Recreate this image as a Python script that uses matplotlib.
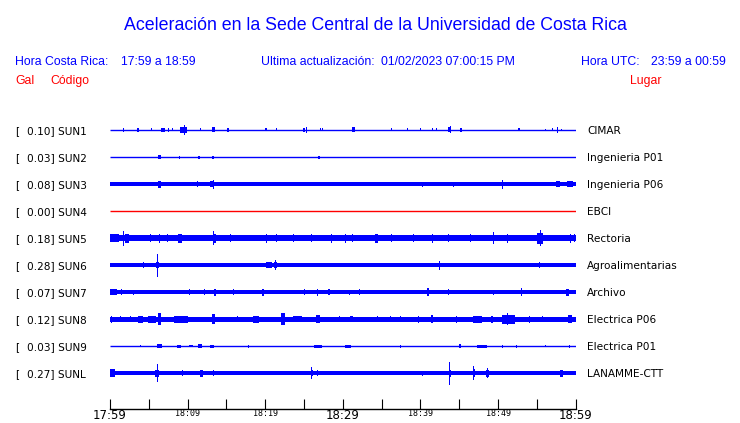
import matplotlib

matplotlib.use("Agg")
import matplotlib.pyplot as plt
import matplotlib.transforms as mtransforms

# time window in minutes after 17:59
T_START = 0.0
T_END = 60.0

CODES = ["SUN1", "SUN2", "SUN3", "SUN4", "SUN5", "SUN6", "SUN7", "SUN8", "SUN9", "SUNL"]
SCALES = ["0.10", "0.03", "0.08", "0.00", "0.18", "0.28", "0.07", "0.12", "0.03", "0.27"]
PLACES = ["CIMAR", "Ingenieria P01", "Ingenieria P06", "EBCI", "Rectoria",
          "Agroalimentarias", "Archivo", "Electrica P06", "Electrica P01", "LANAMME-CTT"]
TRACE_COLORS = ["blue", "blue", "blue", "red", "blue", "blue", "blue", "blue", "blue", "blue"]

# half height of the background noise band (pixels of the original plot)
NOISE = [0.5, 0.5, 2.0, 0.5, 3.0, 2.0, 2.0, 2.5, 0.5, 2.0]

# bursts: (minute, half height px, duration minutes)
SUN1_BURSTS = [
    (1.7, 2, 0.15), (3.6, 2, 0.3), (5.3, 1.5, 0.1), (6.8, 2, 0.5), (7.5, 2, 0.1),
    (8.1, 1.5, 0.1), (9.5, 3, 0.9), (9.6, 5, 0.12), (11.7, 1.5, 0.1), (13.3, 2.5, 0.4),
    (15.1, 2, 0.1), (15.3, 2, 0.1), (18.3, 1, 0.1), (20.0, 1.5, 0.1), (20.2, 1.5, 0.1),
    (21.5, 1.5, 0.1), (22.3, 1.5, 0.1), (25.0, 2, 0.3), (25.3, 3, 0.1), (27.1, 1.5, 0.1),
    (27.4, 1.5, 0.1), (31.4, 2.5, 0.4), (36.3, 1.5, 0.1), (38.3, 1.5, 0.1), (40.0, 1.5, 0.2),
    (41.6, 1.5, 0.1), (42.1, 1.5, 0.1), (43.7, 2.5, 0.4), (43.9, 3.5, 0.12), (45.2, 2, 0.2),
    (52.6, 1.5, 0.1), (52.8, 1.5, 0.1), (54.5, 1.5, 0.1), (56.1, 1, 0.1), (57.0, 1.5, 0.1),
    (57.7, 3, 0.1), (58.2, 1, 0.1),
]
SUN2_BURSTS = [
    (6.4, 2, 0.4), (9.0, 1.5, 0.15), (11.5, 1.5, 0.3), (13.3, 1.5, 0.3), (26.9, 1.5, 0.3),
    (47.8, 1, 0.1),
]
SUN3_BURSTS = [
    (6.4, 3.5, 0.4), (11.3, 3, 0.1), (13.1, 3, 0.4), (13.3, 4.5, 0.12), (40.3, 2.5, 0.1),
    (44.3, 2.5, 0.1), (50.6, 4.5, 0.1), (57.7, 2.8, 0.5), (59.3, 2.8, 0.8),
]
SUN4_BURSTS = []
SUN5_BURSTS = [
    (0.6, 4, 1.2), (1.7, 7.5, 0.12), (2.2, 4.5, 0.5), (5.2, 4, 0.12), (6.4, 4.5, 0.15),
    (7.4, 4, 0.12), (9.0, 4.5, 0.5), (11.6, 4.5, 0.12), (13.3, 7, 0.12), (13.5, 4.5, 0.4),
    (15.5, 4, 0.12), (17.4, 6, 0.12), (20.2, 4.5, 0.12), (21.5, 4, 0.12), (23.6, 4, 0.12),
    (26.0, 4, 0.12), (28.6, 4.5, 0.12), (30.3, 4.5, 0.12), (31.3, 4, 0.12), (34.3, 4.5, 0.4),
    (36.3, 4, 0.12), (39.1, 4, 0.12), (41.6, 4.5, 0.12), (43.6, 4, 0.12), (46.4, 4, 0.12),
    (49.4, 6, 0.12), (51.2, 4.5, 0.12), (55.4, 5.5, 0.8), (55.5, 8, 0.12), (57.6, 4, 0.12),
    (59.3, 4.5, 0.12), (59.8, 4, 0.12),
]
SUN6_BURSTS = [
    (4.3, 3, 0.12), (6.1, 3, 0.4), (6.1, 11.5, 0.12), (20.5, 2.8, 0.8), (21.3, 3, 0.4),
    (21.3, 5, 0.12), (42.5, 4.5, 0.1), (55.4, 3, 0.12),
]
SUN7_BURSTS = [
    (0.45, 3, 0.9), (1.5, 3, 0.1), (3.0, 2.5, 0.1), (4.9, 3, 0.1), (7.1, 3, 0.1),
    (10.2, 3, 0.1), (12.2, 3, 0.1), (13.5, 3.5, 0.3), (15.9, 3, 0.1), (19.7, 3.5, 0.3),
    (22.3, 3, 0.1), (24.1, 3, 0.1), (25.1, 3, 0.1), (26.7, 3.5, 0.1), (28.2, 3, 0.3),
    (30.9, 2.5, 0.1), (32.2, 3, 0.1), (34.4, 3, 0.1), (41.0, 4, 0.3), (43.6, 3, 0.1),
    (46.4, 2.5, 0.1), (49.4, 2.5, 0.1), (53.0, 4, 0.1), (54.5, 3, 0.1), (57.1, 3.5, 0.1),
    (59.0, 3.5, 0.4),
]
SUN8_BURSTS = [
    (0.2, 3.5, 0.12), (1.3, 3, 0.12), (2.6, 3, 0.12), (3.9, 3.2, 0.7), (5.4, 3.2, 1.0),
    (6.4, 6, 0.4), (9.2, 3.2, 1.8), (11.6, 3.5, 0.12), (13.3, 5, 0.4), (16.4, 3, 0.12),
    (18.8, 3.2, 0.8), (22.3, 6, 0.4), (24.2, 3, 1.2), (26.8, 4, 0.4), (29.6, 3, 0.12),
    (31.1, 3, 0.3), (34.5, 3, 0.12), (36.1, 3, 0.12), (37.4, 3, 0.12), (38.4, 3.5, 0.12),
    (39.7, 3.5, 0.12), (41.5, 4, 0.3), (44.7, 3.5, 0.12), (47.4, 3.5, 1.2), (49.2, 3.5, 0.3),
    (51.4, 4.2, 1.7), (51.2, 6, 0.12), (54.1, 3.5, 0.12), (55.7, 3, 0.12), (59.3, 4, 0.5),
]
SUN9_BURSTS = [
    (3.9, 1, 0.1), (6.4, 2, 0.7), (8.9, 1.5, 0.6), (10.4, 1, 0.5), (11.6, 2, 0.5),
    (13.2, 1.5, 0.5), (17.8, 1.5, 0.1), (22.3, 2, 0.1), (26.8, 1.5, 1.0), (30.7, 1.5, 0.8),
    (35.7, 1, 0.1), (37.4, 1.5, 0.1), (45.1, 2, 0.3), (47.9, 1.5, 1.3), (50.6, 1.5, 0.1),
    (52.4, 1.5, 0.1), (56.1, 1, 0.1), (59.2, 1.5, 0.1),
]
SUNL_BURSTS = [
    (0.3, 4, 0.6), (6.1, 3.5, 0.5), (6.1, 9, 0.12), (6.7, 3, 0.12), (9.3, 3, 0.12),
    (11.8, 3.5, 0.4), (13.3, 3, 0.12), (26.0, 3, 0.3), (26.0, 6, 0.12), (26.7, 3, 0.12),
    (37.9, 3, 0.1), (40.3, 2.5, 0.1), (43.8, 3.5, 0.3), (43.8, 11.5, 0.12), (46.9, 4, 0.3),
    (46.9, 7, 0.12), (48.7, 3.5, 0.4), (48.7, 5, 0.15), (58.2, 3.5, 0.3),
]
BURSTS = [SUN1_BURSTS, SUN2_BURSTS, SUN3_BURSTS, SUN4_BURSTS, SUN5_BURSTS,
          SUN6_BURSTS, SUN7_BURSTS, SUN8_BURSTS, SUN9_BURSTS, SUNL_BURSTS]

TICKS = [0, 5, 10, 15, 20, 25, 30, 35, 40, 45, 50, 55, 60]
TICK_LABELS = ["17:59", "", "18:09", "", "18:19", "", "18:29", "", "18:39", "", "18:49", "", "18:59"]
BIG_LABELS = ["17:59", "18:29", "18:59"]

W, H = 740, 423
ROW_PX = 27.05
TOP_ROW_PX = 130.0
AXIS_PX = 409.0


def fx(px):
    return px / W


def fy(py):
    return 1 - py / H


def main() -> None:
    fig = plt.figure(figsize=(W / 100, H / 100), dpi=100)
    ax = fig.add_axes([fx(110), fy(AXIS_PX), (575.6 - 110) / W, (AXIS_PX - 110) / H])
    ax.set_xlim(T_START, T_END)
    ax.set_ylim((AXIS_PX - TOP_ROW_PX) / ROW_PX, (110 - TOP_ROW_PX) / ROW_PX)

    for i, code in enumerate(CODES):
        color = TRACE_COLORS[i]
        noise = NOISE[i] / ROW_PX
        if NOISE[i] <= 0.5:
            ax.hlines(i, T_START, T_END, color=color, linewidth=1.0)
        else:
            ax.fill_between([T_START, T_END], i - noise, i + noise, color=color, linewidth=0)
        for t, h, w in BURSTS[i]:
            hh = h / ROW_PX
            ax.bar(t, 2 * hh, width=max(w, 0.1), bottom=i - hh, color=color, linewidth=0)

    ax.set_yticks([])
    for side in ("left", "right", "top"):
        ax.spines[side].set_visible(False)
    ax.spines["bottom"].set_linewidth(1.0)
    ax.set_xticks(TICKS, TICK_LABELS)
    ax.tick_params(axis="x", direction="in", length=7.2, width=0.8, pad=0, colors="black")
    for lab in ax.get_xticklabels():
        if lab.get_text() in BIG_LABELS:
            lab.set_fontfamily("DejaVu Sans")
            lab.set_fontsize(8.5)
        else:
            lab.set_fontfamily("DejaVu Sans Mono")
            lab.set_fontsize(6)

    # station labels
    trans = mtransforms.blended_transform_factory(fig.transFigure, ax.transData)
    for i, code in enumerate(CODES):
        yb = i + 4.0 / ROW_PX
        ax.text(fx(15), yb, "[", transform=trans, fontsize=7.6, family="DejaVu Sans", va="baseline")
        ax.text(fx(27), yb, f"{SCALES[i]}] {code}", transform=trans, fontsize=7.6,
                family="DejaVu Sans", va="baseline")
        ax.text(fx(587), yb, PLACES[i], transform=trans, fontsize=7.6,
                family="DejaVu Sans", va="baseline")

    sans = ["Liberation Sans", "DejaVu Sans"]
    fig.text(fx(375), fy(30), "Aceleración en la Sede Central de la Universidad de Costa Rica",
             ha="center", va="baseline", fontsize=12.8, color="blue", family=sans)
    hdr = dict(va="baseline", fontsize=8.8, color="blue", family=sans)
    fig.text(fx(15), fy(65), "Hora Costa Rica:", **hdr)
    fig.text(fx(121), fy(65), "17:59 a 18:59", **hdr)
    fig.text(fx(261), fy(65), "Ultima actualización:", **hdr)
    fig.text(fx(381), fy(65), "01/02/2023 07:00:15 PM", **hdr)
    fig.text(fx(581), fy(65), "Hora UTC:", **hdr)
    fig.text(fx(651), fy(65), "23:59 a 00:59", **hdr)
    red = dict(va="baseline", fontsize=8.8, color="red", family=sans)
    fig.text(fx(15), fy(84), "Gal", **red)
    fig.text(fx(50), fy(84), "Código", **red)
    fig.text(fx(630), fy(84), "Lugar", **red)

    fig.savefig("out.png", dpi=100)
    plt.close(fig)


if __name__ == "__main__":
    main()
